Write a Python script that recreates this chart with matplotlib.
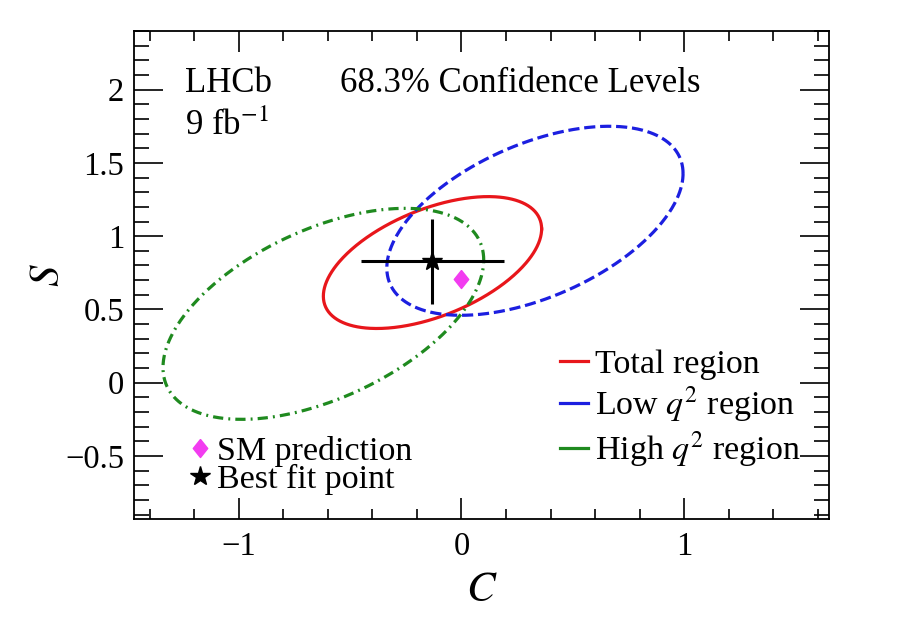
import numpy as np
import matplotlib
matplotlib.use("Agg")
import matplotlib.pyplot as plt
from matplotlib.lines import Line2D
from matplotlib.ticker import MultipleLocator

plt.rcParams["font.family"] = ["Liberation Serif", "DejaVu Serif"]
plt.rcParams["mathtext.fontset"] = "stix"

# 68.3% CL contours: centre, half extent in C and S, correlation
regions = ["Total region", "Low $q^2$ region", "High $q^2$ region"]
c_center = [-0.13, 0.33, -0.62]
s_center = [0.82, 1.105, 0.47]
c_half = [0.49, 0.665, 0.72]
s_half = [0.45, 0.645, 0.72]
rho = [0.51, 0.50, 0.51]
colors = ["#e8161b", "#1c1fe0", "#1f8a1f"]
styles = ["-", (0, (3.5, 1.5)), (0, (3.2, 1.6, 0.6, 1.6))]

# best fit point with errors, SM prediction
best_c, best_s = -0.13, 0.83
best_c_err, best_s_err = 0.32, 0.29
sm_c, sm_s = 0.0, 0.71

fig = plt.figure(figsize=(9.02, 6.28), dpi=100)
ax = fig.add_axes([0.1486, 0.1736, 0.7704, 0.777])

t = np.linspace(0, 2 * np.pi, 500)
for i in range(len(regions)):
    x = c_center[i] + c_half[i] * np.cos(t)
    y = s_center[i] + s_half[i] * np.cos(t - np.arccos(rho[i]))
    ax.plot(x, y, color=colors[i], lw=2.3, linestyle=styles[i])

ax.errorbar([best_c], [best_s], xerr=[best_c_err], yerr=[best_s_err],
            fmt="none", ecolor="black", elinewidth=2.2, capsize=0)
ax.plot([best_c], [best_s], marker="*", color="black", ms=15, ls="none")

diamond = [(0, 1), (0.8, 0), (0, -1), (-0.8, 0), (0, 1)]
ax.plot([sm_c], [sm_s], marker=diamond, color="#f23cf0", ms=13, ls="none")

ax.set_xlim(-1.47, 1.65)
ax.set_ylim(-0.93, 2.4)
ax.xaxis.set_major_locator(MultipleLocator(1))
ax.xaxis.set_minor_locator(MultipleLocator(0.2))
ax.yaxis.set_major_locator(MultipleLocator(0.5))
ax.yaxis.set_minor_locator(MultipleLocator(0.1))
ax.xaxis.set_major_formatter(plt.FuncFormatter(lambda v, p: f"{v:g}".replace("-", "\u2212")))
ax.yaxis.set_major_formatter(plt.FuncFormatter(lambda v, p: f"{v:g}".replace("-", "\u2212")))
ax.tick_params(axis="both", which="both", direction="in", top=True, right=True,
               labelsize=23.5, width=1.2)
ax.tick_params(axis="x", which="major", length=15, pad=9)
ax.tick_params(axis="x", which="minor", length=7)
ax.tick_params(axis="y", which="major", length=21, pad=7)
ax.tick_params(axis="y", which="minor", length=11)
for sp in ax.spines.values():
    sp.set_linewidth(1.3)

ax.set_xlabel("$C$", fontsize=31, labelpad=6.5)
ax.set_ylabel("$S$", fontsize=31, labelpad=-2)

ax.text(0.074, 0.875, "LHCb", transform=ax.transAxes, fontsize=25)
ax.text(0.074, 0.787, "9 fb$^{-1}$", transform=ax.transAxes, fontsize=25)
ax.text(0.296, 0.875, "68.3% Confidence Levels", transform=ax.transAxes, fontsize=25)

handles = [Line2D([], [], color=colors[i], lw=2.3, linestyle="-") for i in range(len(regions))]
leg = ax.legend(handles, regions, loc="upper left", bbox_to_anchor=(0.613, 0.349),
                frameon=False, fontsize=24.5, handlelength=0.82, handletextpad=0.2,
                labelspacing=0.16, borderpad=0, borderaxespad=0)
ax.add_artist(leg)

mk_handles = [Line2D([], [], marker=diamond, color="#f23cf0", ms=13, ls="none"),
              Line2D([], [], marker="*", color="black", ms=15, ls="none")]
ax.legend(mk_handles, ["SM prediction", "Best fit point"], loc="upper left",
          bbox_to_anchor=(0.075, 0.170), frameon=False, fontsize=24.5,
          handlelength=0.8, handletextpad=0.12, labelspacing=-0.10,
          borderpad=0, borderaxespad=0)

fig.savefig("out.png", dpi=100)
